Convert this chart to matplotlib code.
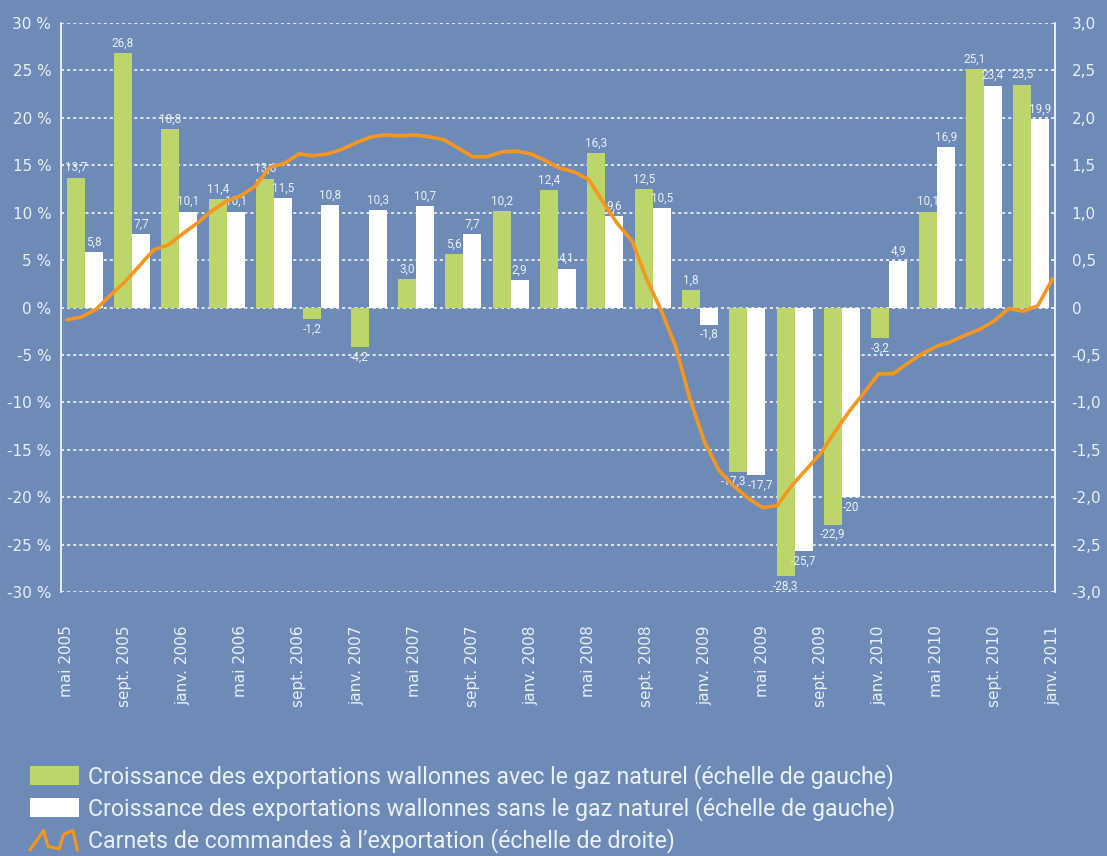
import numpy as np
import matplotlib
matplotlib.use("Agg")
import matplotlib.pyplot as plt
from matplotlib.ticker import FuncFormatter, MultipleLocator
from matplotlib.lines import Line2D
from matplotlib.patches import Patch
from matplotlib.legend_handler import HandlerBase

# ---------------- data ----------------
month_labels = ['mai 2005', 'sept. 2005', 'janv. 2006', 'mai 2006', 'sept. 2006',
                'janv. 2007', 'mai 2007', 'sept. 2007', 'janv. 2008', 'mai 2008',
                'sept. 2008', 'janv. 2009', 'mai 2009', 'sept. 2009', 'janv. 2010',
                'mai 2010', 'sept. 2010', 'janv. 2011']

with_gas = [13.7, 26.8, 18.8, 11.4, 13.6, -1.2, -4.2, 3.0, 5.6, 10.2, 12.4,
            16.3, 12.5, 1.8, -17.3, -28.3, -22.9, -3.2, 10.1, 25.1, 23.5]
without_gas = [5.8, 7.7, 10.1, 10.1, 11.5, 10.8, 10.3, 10.7, 7.7, 2.9, 4.1,
               9.6, 10.5, -1.8, -17.7, -25.7, -20, 4.9, 16.9, 23.4, 19.9]

# monthly order books (right scale), mai 2005 .. janv. 2011
order_books = [-0.13, -0.10, -0.02, 0.13, 0.27, 0.44, 0.61, 0.66, 0.78, 0.89,
               1.02, 1.12, 1.18, 1.28, 1.48, 1.52, 1.62, 1.60, 1.62, 1.67,
               1.74, 1.80, 1.82, 1.81, 1.82, 1.80, 1.77, 1.68, 1.59, 1.59,
               1.64, 1.65, 1.62, 1.55, 1.47, 1.43, 1.35, 1.11, 0.88, 0.70,
               0.30, -0.03, -0.41, -0.97, -1.42, -1.72, -1.88, -2.01, -2.11, -2.09,
               -1.88, -1.71, -1.54, -1.31, -1.09, -0.90, -0.70, -0.70, -0.59, -0.49,
               -0.41, -0.36, -0.29, -0.23, -0.14, -0.01, -0.04, 0.02, 0.30]

legend_labels = ["Croissance des exportations wallonnes avec le gaz naturel (échelle de gauche)",
                 "Croissance des exportations wallonnes sans le gaz naturel (échelle de gauche)",
                 "Carnets de commandes à l\u2019exportation (échelle de droite)"]

# ---------------- style ----------------
BG = '#6E8BB7'
GREEN = '#BCD66B'
WHITE = '#FFFFFF'
ORANGE = '#F7961F'
TXT = '#EAF0F8'
TICKFONT = ['DejaVu Sans']
LABELFONT = ['Roboto', 'DejaVu Sans']

W, H = 1107, 856
fig = plt.figure(figsize=(W / 100, H / 100), dpi=100, facecolor=BG)
rect = [61 / W, 1 - 592 / H, (1055 - 61) / W, (592 - 23) / H]

ax = fig.add_axes(rect)
ax.set_facecolor(BG)
n = len(with_gas)
x = np.arange(n)
bw = 0.38
bg_bars = ax.bar(x - bw / 2, with_gas, bw, color=GREEN, zorder=2)
bw_bars = ax.bar(x + bw / 2, without_gas, bw, color=WHITE, zorder=2)
ax.set_xlim(-0.5, n - 0.5)
ax.set_ylim(-30, 30)
ax.yaxis.set_major_locator(MultipleLocator(5))
ax.yaxis.set_major_formatter(FuncFormatter(lambda v, p: f"{int(round(v))} %"))
ax.set_xticks([])
ax.set_axisbelow(True)
ax.yaxis.grid(True, color='white', linestyle=(0, (2.0, 2.0)), linewidth=1.1)
for s in ['top', 'bottom', 'right']:
    ax.spines[s].set_visible(False)
ax.spines['left'].set_color('white')
ax.spines['left'].set_linewidth(1.2)
ax.tick_params(axis='y', length=0, pad=7, labelsize=11, labelcolor=TXT)
for t in ax.get_yticklabels():
    t.set_fontfamily(TICKFONT)


def fmt(v):
    if isinstance(v, int):
        return str(v)
    return f"{v:.1f}".replace('.', ',')


for i in range(n):
    a, b = with_gas[i], without_gas[i]
    # nudge apart labels of a pair that would otherwise collide
    spread = 3.2 if (a * b > 0 and abs(a - b) < 1) else 0.0
    for bar, v, sgn in ((bg_bars[i], a, -1), (bw_bars[i], b, 1)):
        cx = bar.get_x() + bar.get_width() / 2
        off = 2.5 if v >= 0 else -2.5
        ax.annotate(fmt(v), (cx, v), xytext=(sgn * spread, off),
                    textcoords='offset points',
                    ha='center', va='bottom' if v >= 0 else 'top',
                    fontsize=8.5, color=TXT, family=LABELFONT, zorder=3)

# line axes (monthly scale)
axl = fig.add_axes(rect)
axl.patch.set_visible(False)
months = np.arange(len(order_books))
axl.plot(months, order_books, color=ORANGE, linewidth=2.6, solid_capstyle='round',
         solid_joinstyle='round', clip_on=False, zorder=4)
axl.set_xlim(-0.41, 68.18)
axl.set_ylim(-3, 3)
axl.yaxis.tick_right()
axl.yaxis.set_major_locator(MultipleLocator(0.5))
axl.yaxis.set_major_formatter(FuncFormatter(
    lambda v, p: "0" if abs(v) < 1e-9 else f"{v:.1f}".replace('.', ',')))
axl.set_xticks(np.arange(0, len(order_books), 4))
axl.set_xticklabels(month_labels, rotation=90)
for s in ['top', 'bottom', 'left']:
    axl.spines[s].set_visible(False)
axl.spines['right'].set_color('white')
axl.spines['right'].set_linewidth(1.2)
axl.tick_params(axis='y', length=0, pad=12, labelsize=11, labelcolor=TXT)
axl.tick_params(axis='x', length=0, pad=24, labelsize=11, labelcolor=TXT)
for t in axl.get_yticklabels() + axl.get_xticklabels():
    t.set_fontfamily(TICKFONT)


# legend with zigzag line icon
class HandlerZig(HandlerBase):
    def create_artists(self, legend, orig_handle, xdescent, ydescent, width, height,
                       fontsize, trans):
        xs = np.array([0.0, 0.28, 0.37, 0.6, 0.69, 0.88, 0.97]) * width - xdescent
        ys = np.array([-0.05, 0.95, 0.12, 0.0, 0.75, 0.95, -0.05]) * height - ydescent
        ln = Line2D(xs, ys, color=orig_handle.get_color(), linewidth=2.2,
                    transform=trans)
        return [ln]


handles = [Patch(facecolor=GREEN, edgecolor='none'),
           Patch(facecolor=WHITE, edgecolor='none'),
           Line2D([], [], color=ORANGE)]
leg = fig.legend(handles, legend_labels, loc='upper left',
                 bbox_to_anchor=(30 / W, 1 - 764 / H), frameon=False,
                 prop={'family': ['Roboto', 'DejaVu Sans'], 'size': 16.7},
                 labelcolor=TXT, handlelength=2.1, handleheight=0.9,
                 handletextpad=0.4, labelspacing=0.3, borderpad=0, borderaxespad=0,
                 handler_map={Line2D: HandlerZig()})

fig.savefig('out.png', dpi=100, facecolor=BG)
